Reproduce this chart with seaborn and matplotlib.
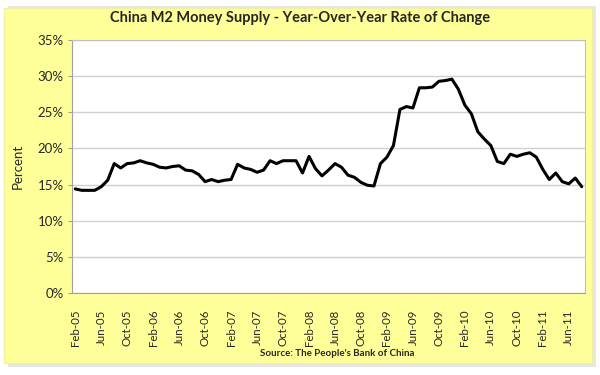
import pandas as pd
import numpy as np
import seaborn as sns
import matplotlib.pyplot as plt
from matplotlib.patches import Rectangle

# monthly M2 yoy growth, Feb-05 .. Aug-11
months = pd.date_range("2005-02-01", "2011-08-01", freq="MS")
m2_yoy = [14.4, 14.2, 14.2, 14.2, 14.7, 15.6, 17.9, 17.3, 17.9, 18.0, 18.3, 18.0,
          17.8, 17.4, 17.3, 17.5, 17.6, 17.0, 16.9, 16.4, 15.4, 15.7, 15.4, 15.6,
          15.7, 17.8, 17.3, 17.1, 16.7, 17.0, 18.3, 17.9, 18.3, 18.3, 18.3, 16.6,
          18.9, 17.2, 16.2, 17.0, 17.9, 17.4, 16.3, 16.0, 15.3, 14.9, 14.8, 17.9,
          18.8, 20.4, 25.4, 25.8, 25.6, 28.4, 28.4, 28.5, 29.3, 29.4, 29.6, 28.2,
          26.0, 24.8, 22.3, 21.3, 20.4, 18.2, 17.9, 19.2, 18.9, 19.2, 19.4, 18.8,
          17.1, 15.7, 16.6, 15.4, 15.1, 15.9, 14.7]
y_ticks = [0, 5, 10, 15, 20, 25, 30, 35]

df = pd.DataFrame({"idx": np.arange(len(months)), "yoy": m2_yoy})
tick_pos = df["idx"][::4]
tick_labels = months[::4].strftime("%b-%y")

sns.set_style("white")
plt.rcParams["font.family"] = ["Lato", "DejaVu Sans"]

fig = plt.figure(figsize=(6, 3.75), dpi=100)
fig.patch.set_facecolor("white")
# shadow + yellow chart area
fig.patches.append(Rectangle((0.014, 0.022), 0.98, 0.963, transform=fig.transFigure,
                             facecolor="#d8d8d8", edgecolor="none", zorder=-2, alpha=0.6))
fig.patches.append(Rectangle((0.007, 0.032), 0.98, 0.948, transform=fig.transFigure,
                             facecolor="#ffff99", edgecolor="#f0f0a0", zorder=-1))

ax = fig.add_axes([0.12, 0.219, 0.855, 0.674])
sns.lineplot(data=df, x="idx", y="yoy", color="black", linewidth=2.2, ax=ax)

ax.set_xlim(-0.5, len(months) - 0.5)
ax.set_ylim(0, 35)
ax.set_yticks(y_ticks)
ax.set_yticklabels([f"{v}%" for v in y_ticks], fontsize=9.5)
ax.set_xticks(tick_pos)
ax.set_xticklabels(tick_labels, rotation=90, fontsize=8.3)
ax.yaxis.grid(True, color="#d0d0d0", linewidth=1)
ax.set_axisbelow(True)
ax.tick_params(axis="both", length=3, color="#a0a0a0", left=True, bottom=False, pad=3)
ax.tick_params(axis="x", pad=9)
for s in ax.spines.values():
    s.set_color("#c0c0c0")
ax.spines["left"].set_color("#a0a0a0")
ax.spines["bottom"].set_color("#a0a0a0")
ax.set_xlabel("")
ax.set_ylabel("Percent", fontsize=9.5)
ax.yaxis.set_label_coords(-0.095, 0.5)

fig.text(0.5, 0.952, "China M2 Money Supply - Year-Over-Year Rate of Change",
         ha="center", va="center", fontsize=10.5, fontweight="bold")
fig.text(0.562, 0.058, "Source: The People's Bank of China",
         ha="center", va="center", fontsize=7, fontweight="bold")

fig.savefig("out.png", dpi=100)
